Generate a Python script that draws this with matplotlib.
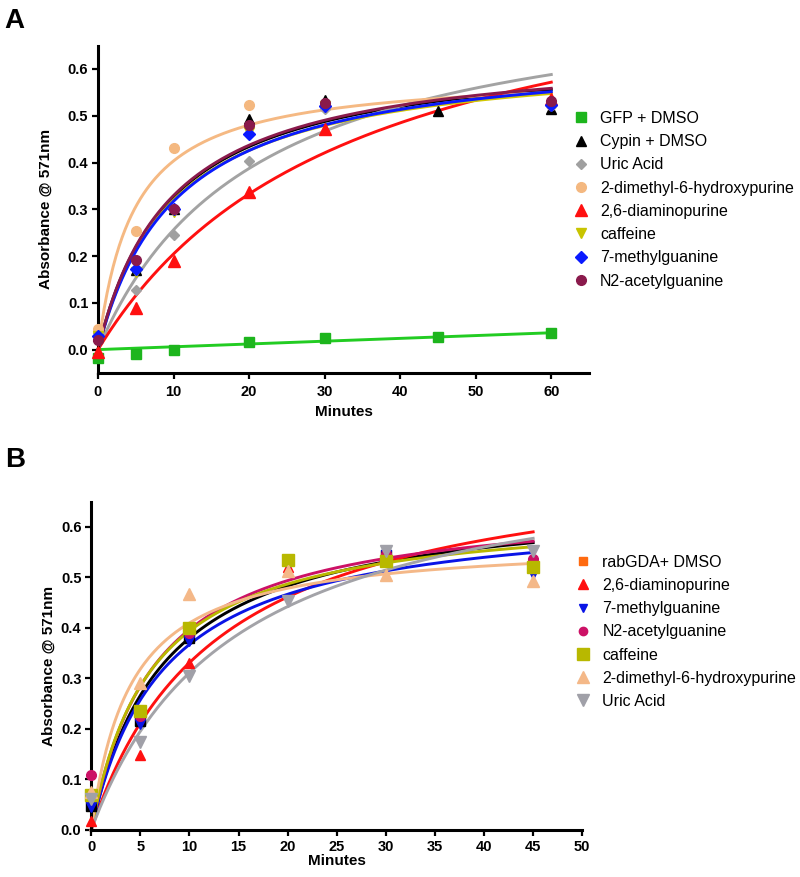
"""Cypin / rabGDA guanine deaminase activity with purine analogues (panels A and B)."""

import numpy as np
import matplotlib

matplotlib.use("Agg")
import matplotlib.pyplot as plt  # noqa: E402
from matplotlib.lines import Line2D  # noqa: E402

plt.rcParams["font.family"] = ["Liberation Sans", "DejaVu Sans"]

# ---- Panel A data ----------------------------------------------------------
a_labels = ["GFP + DMSO", "Cypin + DMSO", "Uric Acid", "2-dimethyl-6-hydroxypurine",
            "2,6-diaminopurine", "caffeine", "7-methylguanine", "N2-acetylguanine"]
a_x = [
    [0, 5, 10, 20, 30, 45, 60],
    [0, 5, 10, 20, 30, 45, 60],
    [0, 5, 10, 20, 30, 60],
    [0, 5, 10, 20, 30, 60],
    [0, 5, 10, 20, 30, 60],
    [0, 5, 10, 20, 30, 60],
    [0, 5, 10, 20, 30, 60],
    [0, 5, 10, 20, 30, 60],
]
a_y = [
    [-0.018, -0.009, 0.0, 0.016, 0.024, 0.028, 0.035],
    [0.030, 0.170, 0.300, 0.492, 0.533, 0.511, 0.515],
    [0.035, 0.128, 0.245, 0.403, 0.515, 0.522],
    [0.045, 0.253, 0.431, 0.523, 0.520, 0.522],
    [-0.005, 0.090, 0.190, 0.336, 0.472, 0.536],
    [0.030, 0.166, 0.295, 0.465, 0.520, 0.520],
    [0.030, 0.172, 0.300, 0.460, 0.520, 0.524],
    [0.020, 0.191, 0.300, 0.480, 0.528, 0.532],
]
# fitted curves: linear for GFP, hyperbola Bmax*x/(Kd+x) otherwise
a_gfp_slope = 0.0006
a_bmax = [0.0, 0.647, 0.794, 0.593, 0.892, 0.639, 0.647, 0.649]
a_kd = [0.0, 9.8, 21.0, 4.7, 33.6, 10.0, 10.4, 9.7]
a_marker_color = ["#1db51d", "#000000", "#a0a0a0", "#f4b880", "#ff1010",
                  "#c8c400", "#0a1aff", "#8a1a4c"]
a_line_color = ["#22cc22", "#000000", "#a3a3a3", "#f5b983", "#ff1010",
                "#d2c800", "#0a1aff", "#8a1a4c"]
a_marker = ["s", "^", "D", "o", "^", "v", "D", "o"]
a_msize = [7, 7, 5.5, 7, 8, 7, 6, 7]

# ---- Panel B data ----------------------------------------------------------
b_labels = ["rabGDA+ DMSO", "2,6-diaminopurine", "7-methylguanine", "N2-acetylguanine",
            "caffeine", "2-dimethyl-6-hydroxypurine", "Uric Acid"]
b_x = [0, 5, 10, 20, 30, 45]
b_y = [
    [0.048, 0.215, 0.380, 0.535, 0.545, 0.520],
    [0.018, 0.148, 0.331, 0.520, 0.555, 0.530],
    [0.046, 0.210, 0.375, 0.524, 0.545, 0.506],
    [0.108, 0.225, 0.390, 0.530, 0.546, 0.536],
    [0.070, 0.235, 0.400, 0.535, 0.532, 0.521],
    [0.075, 0.290, 0.468, 0.513, 0.504, 0.493],
    [0.062, 0.175, 0.304, 0.453, 0.552, 0.553],
]
b_bmax = [0.663, 0.760, 0.640, 0.654, 0.638, 0.575, 0.764]
b_kd = [7.45, 12.95, 7.43, 6.49, 6.2, 4.03, 14.55]
b_marker_color = ["#000000", "#ff1010", "#0a14e6", "#cc1166", "#b8b800", "#f4b888", "#a0a0a8"]
b_legend_color = ["#ff6a10", "#ff1010", "#0a14e6", "#cc1166", "#b8b800", "#f4b888", "#a0a0a8"]
b_line_color = ["#000000", "#ff1010", "#0a14e6", "#cc1166", "#b8b800", "#f4b888", "#a3a3a8"]
b_marker = ["s", "^", "v", "o", "s", "^", "v"]
b_msize = [6.5, 7.5, 7, 7, 8, 8.5, 8.5]
b_legend_msize = [6, 6.5, 6, 6, 8, 8.5, 8.5]

SPINE_W = 2.2


def style_axes(ax, xlim, ylim, xticks, yticks, xpad, xlabelpad, ylabelpad):
    ax.set_xlim(*xlim)
    ax.set_ylim(*ylim)
    ax.set_xticks(xticks)
    ax.set_yticks(yticks)
    ax.set_yticklabels([f"{t:.1f}" for t in yticks])
    for side in ("top", "right"):
        ax.spines[side].set_visible(False)
    for side in ("left", "bottom"):
        ax.spines[side].set_linewidth(SPINE_W)
    ax.tick_params(width=1.6, length=4.5, labelsize=10.5, pad=2.5)
    ax.tick_params(axis="x", pad=xpad)
    for lab in ax.get_xticklabels() + ax.get_yticklabels():
        lab.set_fontweight("bold")
    ax.set_xlabel("Minutes", fontsize=11, fontweight="bold", labelpad=xlabelpad)
    ax.set_ylabel("Absorbance @ 571nm", fontsize=11, fontweight="bold", labelpad=ylabelpad)


fig = plt.figure(figsize=(8, 8.77), dpi=100)

# ---- A ----
ax_a = fig.add_axes([0.1225, 0.5747, 0.6138, 0.3733])
xs = np.linspace(0, 60, 300)
for i in range(len(a_labels)):
    if i == 0:
        curve = a_gfp_slope * xs
    else:
        curve = a_bmax[i] * xs / (a_kd[i] + xs)
    ax_a.plot(xs, curve, color=a_line_color[i], lw=2.1, zorder=2, clip_on=False)
for i in range(len(a_labels)):
    ax_a.plot(a_x[i], a_y[i], ls="none", marker=a_marker[i], ms=a_msize[i],
              color=a_marker_color[i], mec=a_marker_color[i], zorder=3, clip_on=False)
style_axes(ax_a, (0, 65), (-0.05, 0.65), range(0, 61, 10),
           [0.0, 0.1, 0.2, 0.3, 0.4, 0.5, 0.6], xpad=4.5, xlabelpad=4, ylabelpad=11)

handles_a = [Line2D([], [], ls="none", marker=a_marker[i], ms=a_msize[i],
                    color=a_marker_color[i]) for i in range(len(a_labels))]
fig.legend(handles=handles_a, labels=a_labels, loc="upper left",
           bbox_to_anchor=(0.716, 0.8735), frameon=False, fontsize=11.5,
           borderpad=0, borderaxespad=0, handlelength=1.0, handletextpad=0.7,
           labelspacing=0.515)

# ---- B ----
ax_b = fig.add_axes([0.114, 0.0536, 0.6138, 0.3744])
xs = np.linspace(0, 45, 300)
for i in range(len(b_labels)):
    curve = b_bmax[i] * xs / (b_kd[i] + xs)
    ax_b.plot(xs, curve, color=b_line_color[i], lw=2.1, zorder=2, clip_on=False)
for i in range(len(b_labels)):
    ax_b.plot(b_x, b_y[i], ls="none", marker=b_marker[i], ms=b_msize[i],
              color=b_marker_color[i], mec=b_marker_color[i], zorder=3, clip_on=False)
style_axes(ax_b, (0, 50), (0, 0.65), range(0, 51, 5),
           [0.0, 0.1, 0.2, 0.3, 0.4, 0.5, 0.6], xpad=2.5, xlabelpad=0, ylabelpad=4)

handles_b = [Line2D([], [], ls="none", marker=b_marker[i], ms=b_legend_msize[i],
                    color=b_legend_color[i]) for i in range(len(b_labels))]
fig.legend(handles=handles_b, labels=b_labels, loc="upper left",
           bbox_to_anchor=(0.719, 0.3675), frameon=False, fontsize=11.5,
           borderpad=0, borderaxespad=0, handlelength=1.0, handletextpad=0.7,
           labelspacing=0.515)

fig.text(0.006, 0.968, "A", fontsize=20, fontweight="bold", va="baseline")
fig.text(0.006, 0.467, "B", fontsize=20, fontweight="bold", va="baseline")

fig.savefig("out.png", dpi=100)
